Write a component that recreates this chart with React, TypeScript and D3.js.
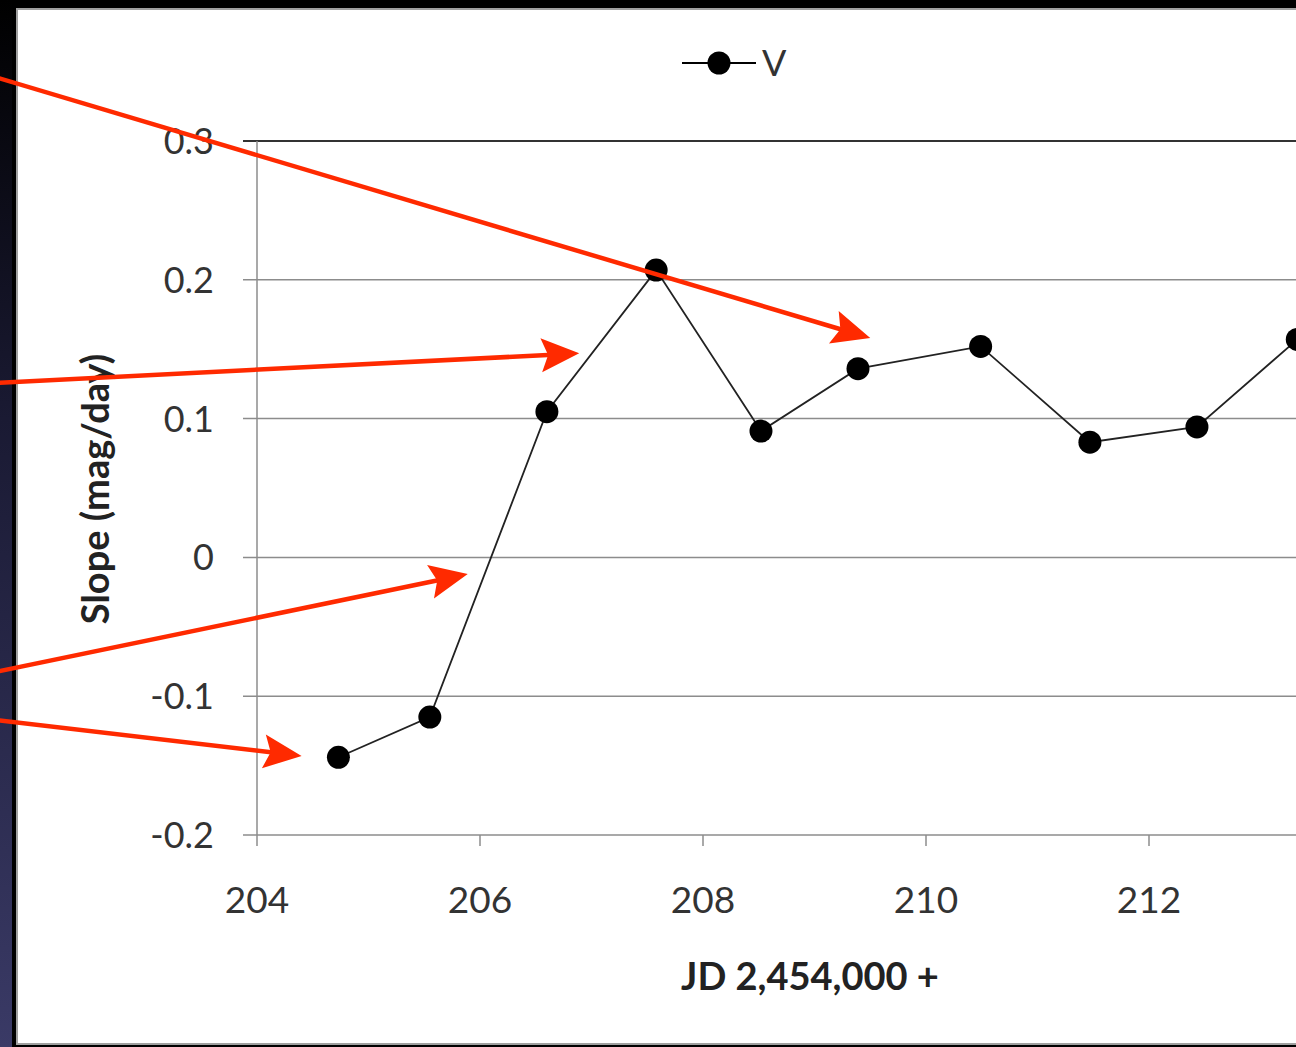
import React from "react";
import * as d3 from "d3";

const jd = [204.73, 205.55, 206.6, 207.58, 208.52, 209.39, 210.49, 211.47, 212.43, 213.33];
const slope = [-0.144, -0.115, 0.105, 0.207, 0.091, 0.136, 0.152, 0.083, 0.094, 0.157];
const xTicks = [204, 206, 208, 210, 212, 214];
const xTickLabels = ["204", "206", "208", "210", "212"];
const yTicks = [-0.2, -0.1, 0, 0.1, 0.2, 0.3];
const yTickLabels = ["-0.2", "-0.1", "0", "0.1", "0.2", "0.3"];
const seriesName = "V";
const xTitle = "JD 2,454,000 +";
const yTitle = "Slope (mag/day)";

// annotation arrows: tips in data space (jd, slope); starts at the page's left edge
const arrowTipJd = [209.5, 206.89, 205.89, 204.4];
const arrowTipSlope = [0.158, 0.147, -0.012, -0.143];
const arrowStartY = [77, 383, 672, 720];

const W = 1296;
const H = 1047;
const FONT = "Lato, 'Open Sans', sans-serif";

export default function App() {
  const x = d3.scaleLinear().domain([204, 214]).range([257, 1372]);
  const y = d3.scaleLinear().domain([-0.2, 0.3]).range([835, 141]);
  const line = d3
    .line<number>()
    .x((_, i) => x(jd[i]))
    .y((d) => y(d));

  const arrows = arrowTipJd.map((j, i) => {
    const tx = x(j);
    const ty = y(arrowTipSlope[i]);
    const sx = -5;
    const sy = arrowStartY[i];
    const ang = Math.atan2(ty - sy, tx - sx);
    const len = 38;
    const half = 17;
    const bx = tx - len * Math.cos(ang);
    const by = ty - len * Math.sin(ang);
    const px = -Math.sin(ang);
    const py = Math.cos(ang);
    const head = `M${tx},${ty} L${bx + px * half},${by + py * half} L${bx + (tx - bx) * 0.18},${by + (ty - by) * 0.18} L${bx - px * half},${by - py * half} Z`;
    return { sx, sy, ex: bx + (tx - bx) * 0.3, ey: by + (ty - by) * 0.3, head };
  });

  return (
    <svg
      width={W}
      height={H}
      style={{ position: "absolute", left: 0, top: 0, display: "block" }}
    >
      <defs>
        <linearGradient id="navy" x1="0" y1="0" x2="0" y2="1">
          <stop offset="0" stopColor="#000000" />
          <stop offset="0.4" stopColor="#1a1a33" />
          <stop offset="1" stopColor="#3a3a66" />
        </linearGradient>
        <clipPath id="clip">
          <rect x={16} y={8} width={W - 16} height={H - 10} />
        </clipPath>
      </defs>
      <rect x={0} y={0} width={W} height={H} fill="#000" />
      <rect x={0} y={0} width={12} height={H} fill="url(#navy)" />
      <rect x={17} y={9} width={W - 15} height={H - 12} fill="#fff" stroke="#a0a0a0" strokeWidth={2} />

      <g clipPath="url(#clip)">
        {yTicks.map((t) => (
          <line
            key={t}
            x1={243}
            x2={1400}
            y1={y(t)}
            y2={y(t)}
            stroke={t === 0.3 ? "#333" : "#8c8c8c"}
            strokeWidth={t === 0.3 ? 2 : 1.5}
          />
        ))}
        <line x1={257} x2={257} y1={141} y2={835} stroke="#8c8c8c" strokeWidth={1.5} />
        {xTicks.map((t) => (
          <line key={t} x1={x(t)} x2={x(t)} y1={835} y2={846} stroke="#8c8c8c" strokeWidth={1.5} />
        ))}
        {yTicks.map((t, i) => (
          <text
            key={t}
            x={214}
            y={y(t)}
            dy="0.36em"
            textAnchor="end"
            fontFamily={FONT}
            fontSize={36}
            fill="#333"
          >
            {yTickLabels[i]}
          </text>
        ))}
        {xTickLabels.map((lab, i) => (
          <text
            key={lab}
            x={x(xTicks[i])}
            y={900}
            dy="0.36em"
            textAnchor="middle"
            fontFamily={FONT}
            fontSize={37}
            fill="#333"
          >
            {lab}
          </text>
        ))}
        <path d={line(slope) || ""} fill="none" stroke="#222" strokeWidth={1.8} />
        {slope.map((v, i) => (
          <circle key={i} cx={x(jd[i])} cy={y(v)} r={11.5} fill="#000" />
        ))}
        <line x1={682} x2={756} y1={63} y2={63} stroke="#000" strokeWidth={2} />
        <circle cx={719} cy={63} r={11.5} fill="#000" />
        <text x={762} y={63} dy="0.36em" fontFamily={FONT} fontSize={36} fill="#333">
          {seriesName}
        </text>
        <text
          x={810}
          y={976}
          dy="0.36em"
          textAnchor="middle"
          fontFamily={FONT}
          fontWeight="bold"
          fontSize={38}
          fill="#222"
        >
          {xTitle}
        </text>
        <text
          transform={`translate(95,489) rotate(-90)`}
          dy="0.36em"
          textAnchor="middle"
          fontFamily={FONT}
          fontWeight="bold"
          fontSize={38}
          fill="#222"
        >
          {yTitle}
        </text>
      </g>
      {arrows.map((a, i) => (
        <g key={i}>
          <line x1={a.sx} y1={a.sy} x2={a.ex} y2={a.ey} stroke="#ff2a00" strokeWidth={4.5} />
          <path d={a.head} fill="#ff2a00" />
        </g>
      ))}
    </svg>
  );
}
